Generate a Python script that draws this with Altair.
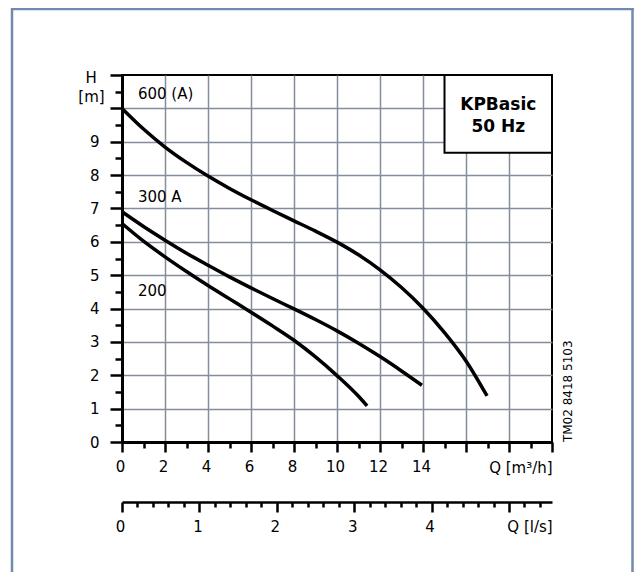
import altair as alt
import pandas as pd

# ---- data ----
curve_names = ["600 (A)", "300 A", "200"]
q_600 = [0, 1, 2, 3, 4, 5, 6, 7, 8, 9, 10, 11, 12, 13, 14, 15, 16, 16.98]
h_600 = [10.0, 9.38, 8.84, 8.38, 7.97, 7.60, 7.26, 6.94, 6.63, 6.32, 5.99, 5.61, 5.16, 4.63, 4.01, 3.28, 2.43, 1.38]
q_300 = [0, 1, 2, 3, 4, 5, 6, 7, 8, 9, 10, 11, 12, 13, 13.95]
h_300 = [6.9, 6.46, 6.05, 5.66, 5.3, 4.95, 4.62, 4.3, 3.99, 3.67, 3.33, 2.96, 2.56, 2.13, 1.7]
q_200 = [0, 1, 2, 3, 4, 5, 6, 7, 8, 9, 10, 11, 11.4]
h_200 = [6.55, 6.02, 5.55, 5.11, 4.69, 4.29, 3.89, 3.48, 3.05, 2.55, 1.99, 1.37, 1.08]

label_q = [0.74, 0.74, 0.74]
label_h = [10.27, 7.2, 4.38]

x_major = list(range(0, 21, 2))
x_minor = list(range(1, 20, 2))
y_major = list(range(0, 12))
y_minor = [i + 0.5 for i in range(0, 11)]
x_grid = list(range(2, 19, 2))
y_grid = list(range(1, 11))
ls_major = [0, 1, 2, 3, 4, 5]
ls_minor = [round(i * 0.2, 1) for i in range(1, 28) if i % 5 != 0]

Q_MAX = 20
H_MAX = 11
LS_MAX = 20 / 3.6

FONT = "DejaVu Sans"
GRID = "#838d9b"
FRAME = "#7289b0"

rows = []
for name, qs, hs in zip(curve_names, [q_600, q_300, q_200], [h_600, h_300, h_200]):
    for q, h in zip(qs, hs):
        rows.append({"curve": name, "Q": q, "H": h})
curves = pd.DataFrame(rows)
labels = pd.DataFrame({"text": curve_names, "Q": label_q, "H": label_h})

xs = alt.Scale(domain=[0, Q_MAX], nice=False, zero=False)
ys = alt.Scale(domain=[0, H_MAX], nice=False, zero=False)
lss = alt.Scale(domain=[0, LS_MAX], nice=False, zero=False)

dummy = pd.DataFrame({"Q": [0, Q_MAX], "H": [0, H_MAX], "ls": [0, LS_MAX]})

# grid only
grid = alt.Chart(dummy).mark_point(opacity=0).encode(
    x=alt.X("Q:Q", scale=xs, axis=alt.Axis(orient="bottom", values=x_grid, grid=True, gridColor=GRID,
                                           gridWidth=1.5, ticks=False, labels=False, domain=False, title=None)),
    y=alt.Y("H:Q", scale=ys, axis=alt.Axis(orient="left", values=y_grid, grid=True, gridColor=GRID,
                                           gridWidth=1.5, ticks=False, labels=False, domain=False, title=None)),
)

# minor ticks on the main axes
minor = alt.Chart(dummy).mark_point(opacity=0).encode(
    x=alt.X("Q:Q", scale=xs, axis=alt.Axis(orient="bottom", values=x_minor, grid=False, tickSize=6,
                                           tickWidth=2.5, tickColor="black", labels=False, domain=False, title=None)),
    y=alt.Y("H:Q", scale=ys, axis=alt.Axis(orient="left", values=y_minor, grid=False, tickSize=7,
                                           tickWidth=2.5, tickColor="black", labels=False, domain=False, title=None)),
)

# curves with the major axes
lines = alt.Chart(curves).mark_line(color="black", strokeWidth=3.5, interpolate="monotone", strokeCap="butt").encode(
    x=alt.X("Q:Q", scale=xs, axis=alt.Axis(orient="bottom", values=x_major, grid=False, tickSize=10, tickWidth=2.5,
                                           tickColor="black", domainColor="black", domainWidth=3,
                                           labelExpr="datum.value <= 14 ? datum.label : ''",
                                           labelFont=FONT, labelFontSize=15, labelColor="black",
                                           labelPadding=7, labelOffset=-2, labelFlush=False,
                                           labelOverlap=False, title=None)),
    y=alt.Y("H:Q", scale=ys, axis=alt.Axis(orient="left", values=y_major, grid=False, tickSize=12, tickWidth=2.5,
                                           tickColor="black", domainColor="black", domainWidth=3,
                                           labelExpr="datum.value <= 9 ? datum.label : ''",
                                           labelFont=FONT, labelFontSize=15, labelColor="black",
                                           labelPadding=11, labelFlush=False, labelOverlap=False, title=None)),
    detail="curve:N",
)

# l/s axis
ls_axis = alt.Chart(dummy).mark_point(opacity=0).encode(
    x=alt.X("ls:Q", scale=lss, axis=alt.Axis(orient="bottom", offset=60, values=ls_major, grid=False, tickSize=10,
                                             tickWidth=2.5, tickColor="black", domainColor="black", domainWidth=2.5,
                                             labelExpr="datum.value <= 4 ? datum.label : ''",
                                             labelFont=FONT, labelFontSize=15, labelColor="black",
                                             labelPadding=7, labelOffset=-2, labelFlush=False,
                                             labelOverlap=False, title=None)),
)
ls_minor_axis = alt.Chart(dummy).mark_point(opacity=0).encode(
    x=alt.X("ls:Q", scale=lss, axis=alt.Axis(orient="bottom", offset=60, values=ls_minor, grid=False, tickSize=5,
                                             tickWidth=2.5, tickColor="black", labels=False, domain=False, title=None)),
)

# KPBasic box
box_df = pd.DataFrame({"q1": [15], "q2": [Q_MAX], "h1": [8.67], "h2": [H_MAX]})
box = alt.Chart(box_df).mark_rect(fill="white", stroke="black", strokeWidth=2).encode(
    x=alt.X("q1:Q", scale=xs, axis=None), x2="q2:Q",
    y=alt.Y("h1:Q", scale=ys, axis=None), y2="h2:Q",
)
box_text_df = pd.DataFrame({"text": ["KPBasic", "50 Hz"], "Q": [17.5, 17.5], "H": [9.95, 9.30]})
box_text = alt.Chart(box_text_df).mark_text(font=FONT, fontSize=17, fontWeight="bold", align="center",
                                             baseline="alphabetic", color="black").encode(
    x=alt.X("Q:Q", scale=xs, axis=None), y=alt.Y("H:Q", scale=ys, axis=None), text="text:N")

curve_labels = alt.Chart(labels).mark_text(font=FONT, fontSize=15, align="left", baseline="alphabetic",
                                           color="black").encode(
    x=alt.X("Q:Q", scale=xs, axis=None), y=alt.Y("H:Q", scale=ys, axis=None), text="text:N")

# axis captions
cap_center = pd.DataFrame({"text": ["H", "[m]"], "Q": [-1.44, -1.42], "H": [10.77, 10.2]})
cap_c = alt.Chart(cap_center).mark_text(font=FONT, fontSize=15, align="center", baseline="alphabetic",
                                        color="black").encode(
    x=alt.X("Q:Q", scale=xs, axis=None), y=alt.Y("H:Q", scale=ys, axis=None), text="text:N")
cap_right = pd.DataFrame({"text": ["Q [m³/h]", "Q [l/s]"], "Q": [20.03, 20.03], "H": [-0.93, -2.70]})
cap_r = alt.Chart(cap_right).mark_text(font=FONT, fontSize=15, align="right", baseline="alphabetic",
                                       color="black").encode(
    x=alt.X("Q:Q", scale=xs, axis=None), y=alt.Y("H:Q", scale=ys, axis=None), text="text:N")
code_df = pd.DataFrame({"text": ["TM02 8418 5103"], "Q": [20.74], "H": [1.52]})
code = alt.Chart(code_df).mark_text(font=FONT, fontSize=12, align="center", baseline="middle", angle=270,
                                    color="black").encode(
    x=alt.X("Q:Q", scale=xs, axis=None), y=alt.Y("H:Q", scale=ys, axis=None), text="text:N")

# outer frame (decoration)
frame_df = pd.DataFrame({"a": [0]})
f_left = alt.Chart(frame_df).mark_rule(color=FRAME, strokeWidth=2.5).encode(
    x=alt.value(-110), y=alt.value(-80), y2=alt.value(600))
f_right = alt.Chart(frame_df).mark_rule(color=FRAME, strokeWidth=2.5).encode(
    x=alt.value(510.5), y=alt.value(-80), y2=alt.value(600))
f_top = alt.Chart(frame_df).mark_rule(color=FRAME, strokeWidth=2.5).encode(
    x=alt.value(-110), x2=alt.value(512), y=alt.value(-66))

chart = alt.layer(
    grid, minor, ls_axis, ls_minor_axis, box, lines, box_text, curve_labels, cap_c, cap_r, code,
    f_left, f_right, f_top,
).resolve_scale(x="independent", y="independent").properties(
    width=430, height=367,
    padding={"left": 114, "top": 67, "right": 82, "bottom": 130},
    autosize="none",
).configure_view(stroke="black", strokeWidth=2)

chart.save("out.html", embed_options={"renderer": "svg", "actions": False})
